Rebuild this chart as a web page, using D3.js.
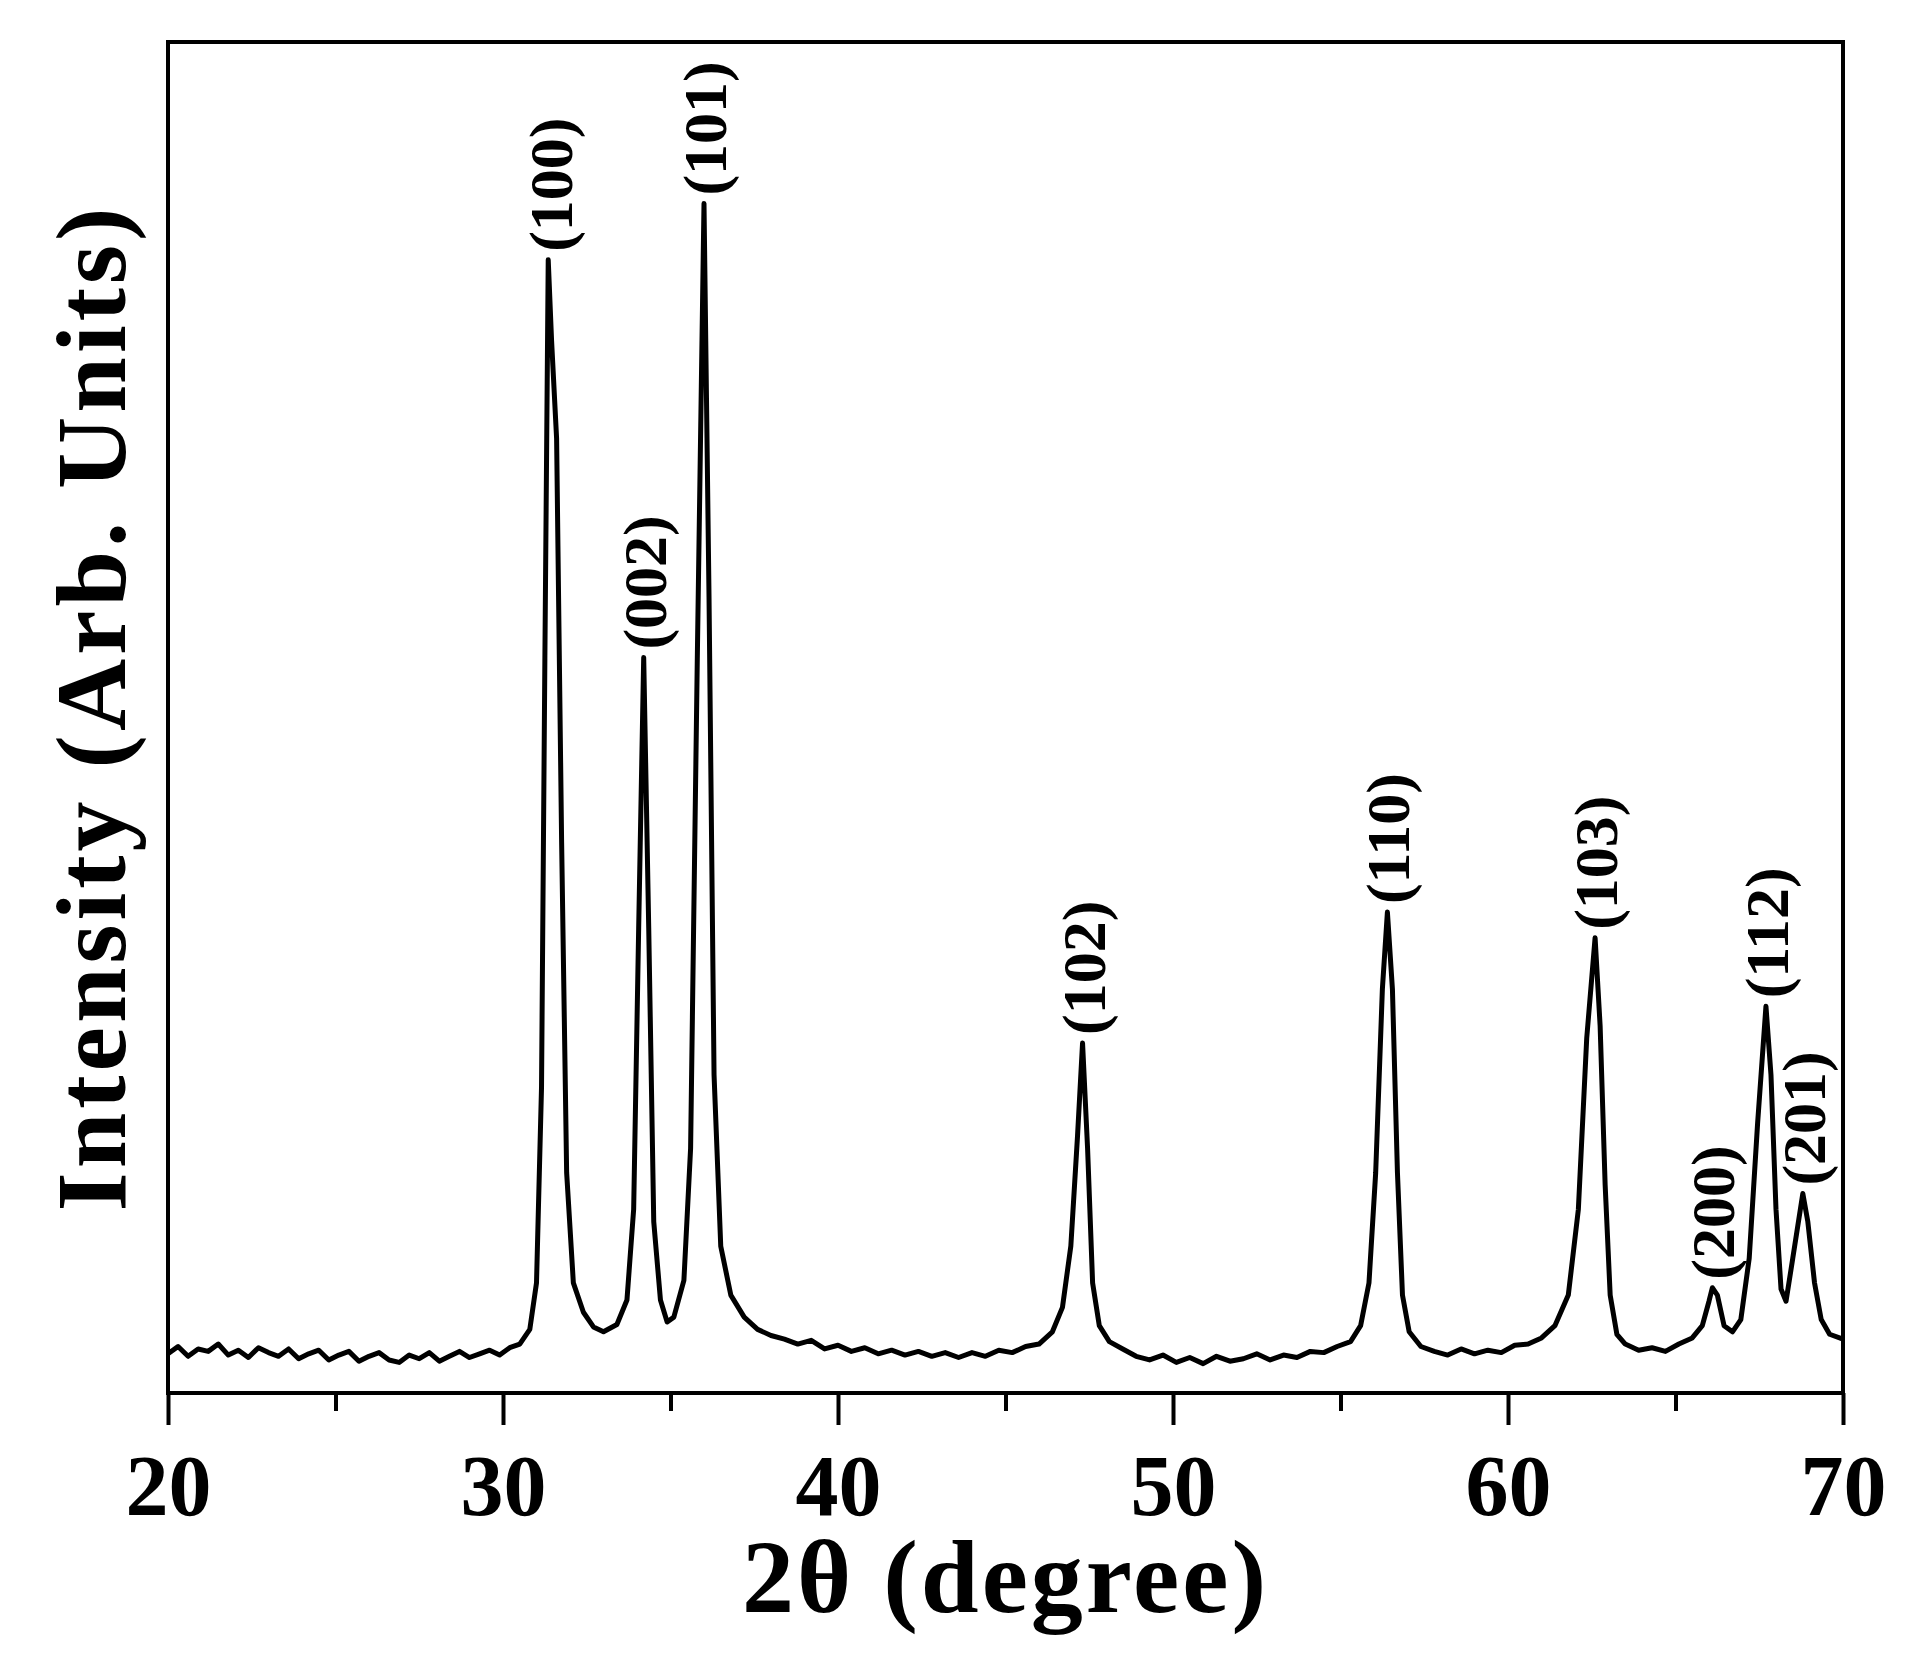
<!DOCTYPE html>
<html><head><meta charset="utf-8">
<script src="https://cdn.jsdelivr.net/npm/d3@7"></script>
<style>body{margin:0;background:#fff}</style></head>
<body><svg id="c" width="1920" height="1656"></svg>
<script>
// [2theta, intensity] pairs
const xrdPoints = [
[20.0,32],[20.3,38],[20.6,30],[20.9,36],[21.2,34],[21.5,40],[21.8,31],[22.1,35],[22.4,29],[22.7,37],
[23.0,33],[23.3,30],[23.6,36],[23.9,28],[24.2,32],[24.5,35],[24.8,27],[25.1,31],[25.4,34],[25.7,26],
[26.0,30],[26.3,33],[26.6,27],[26.9,25],[27.2,31],[27.5,28],[27.8,33],[28.1,26],[28.4,30],[28.7,34],
[29.0,29],[29.3,32],[29.6,35],[29.9,31],[30.2,37],[30.5,40],[30.8,52],[31.0,90],[31.15,250],[31.25,600],
[31.35,926],[31.45,860],[31.6,780],[31.75,450],[31.9,180],[32.1,90],[32.4,66],[32.7,54],[33.0,50],[33.4,56],
[33.7,76],[33.9,150],[34.05,380],[34.2,601],[34.35,380],[34.5,140],[34.7,76],[34.9,58],[35.1,62],[35.4,92],
[35.6,200],[35.8,600],[36.0,972],[36.15,650],[36.3,260],[36.5,120],[36.8,80],[37.2,62],[37.6,52],[38.0,47],
[38.4,44],[38.8,40],[39.2,43],[39.6,36],[40.0,39],[40.4,34],[40.8,37],[41.2,32],[41.6,35],[42.0,31],
[42.4,34],[42.8,30],[43.2,33],[43.6,29],[44.0,33],[44.4,30],[44.8,35],[45.2,33],[45.6,38],[46.0,40],
[46.4,50],[46.7,70],[46.95,120],[47.15,210],[47.3,286],[47.45,200],[47.6,90],[47.8,55],[48.1,42],[48.5,36],
[48.9,30],[49.3,27],[49.7,31],[50.1,25],[50.5,29],[50.9,24],[51.3,30],[51.7,26],[52.1,28],[52.5,32],
[52.9,27],[53.3,31],[53.7,29],[54.1,34],[54.5,33],[54.9,38],[55.3,42],[55.6,55],[55.85,90],[56.05,180],
[56.25,330],[56.4,393],[56.55,330],[56.7,180],[56.85,80],[57.05,50],[57.4,38],[57.8,34],[58.2,31],[58.6,36],
[59.0,32],[59.4,35],[59.8,33],[60.2,39],[60.6,40],[61.0,45],[61.4,55],[61.8,80],[62.1,150],[62.35,290],
[62.6,372],[62.75,300],[62.9,170],[63.05,80],[63.25,48],[63.5,40],[63.9,35],[64.3,37],[64.7,34],[65.1,40],
[65.5,45],[65.8,55],[66.0,75],[66.1,86],[66.25,80],[66.45,55],[66.7,50],[66.95,60],[67.2,110],[67.45,220],
[67.7,316],[67.85,260],[68.0,150],[68.15,85],[68.3,75],[68.5,110],[68.8,163],[68.95,140],[69.15,90],[69.35,60],
[69.6,48],[70.0,44]];
const tickValues = [20,30,40,50,60,70];
const peakLabels = ["(100)","(002)","(101)","(102)","(110)","(103)","(200)","(112)","(201)"];
const peakPos = [31.4,34.2,36.0,47.3,56.4,62.6,66.1,67.7,68.8];
const peakTop = [926,601,972,286,393,372,86,316,163];

const L=168,R=1843,T=42,B=1393;
const svg=d3.select("#c");
const font="'Liberation Serif','DejaVu Serif',serif";
const x=d3.scaleLinear().domain([20,70]).range([L,R]);
const y=d3.scaleLinear().domain([0,1104]).range([B,T]);
svg.append("path").datum(xrdPoints).attr("fill","none").attr("stroke","#000").attr("stroke-width",5).attr("stroke-linejoin","round")
  .attr("d",d3.line().x(d=>x(d[0])).y(d=>y(d[1])));
svg.append("rect").attr("x",L).attr("y",T).attr("width",R-L).attr("height",B-T).attr("fill","none").attr("stroke","#000").attr("stroke-width",4);
const ax=svg.append("g").attr("transform",`translate(0,${B})`)
  .call(d3.axisBottom(x).tickValues(d3.range(20,71,5)).tickSize(0).tickFormat(""));
ax.select(".domain").remove();
ax.selectAll(".tick line").remove();
ax.selectAll(".tick").append("line").attr("y2",d=>d%10===0?32:18).attr("stroke","#000").attr("stroke-width",4);
ax.selectAll(".tick").filter(d=>tickValues.includes(d)).append("text").attr("y",122).attr("text-anchor","middle")
  .attr("fill","#000").style("font-family",font).style("font-weight","bold").style("font-size","86px").text(d=>d);
svg.append("text").attr("x",(L+R)/2).attr("y",1612).attr("text-anchor","middle").style("font-family",font)
  .style("font-weight","bold").style("font-size","104px").style("letter-spacing","3px").text("2θ (degree)");
svg.append("text").attr("transform",`translate(125,${(T+B)/2-10}) rotate(-90)`).attr("text-anchor","middle").style("font-family",font)
  .style("font-weight","bold").style("font-size","100px").style("letter-spacing","4px").text("Intensity (Arb. Units)");
peakLabels.forEach((lab,i)=>{
  svg.append("text").attr("transform",`translate(${x(peakPos[i])+22},${y(peakTop[i])-8}) rotate(-90)`)
    .attr("text-anchor","start").style("font-family",font).style("font-weight","bold").style("font-size","62px").text(lab);
});
</script></body></html>
